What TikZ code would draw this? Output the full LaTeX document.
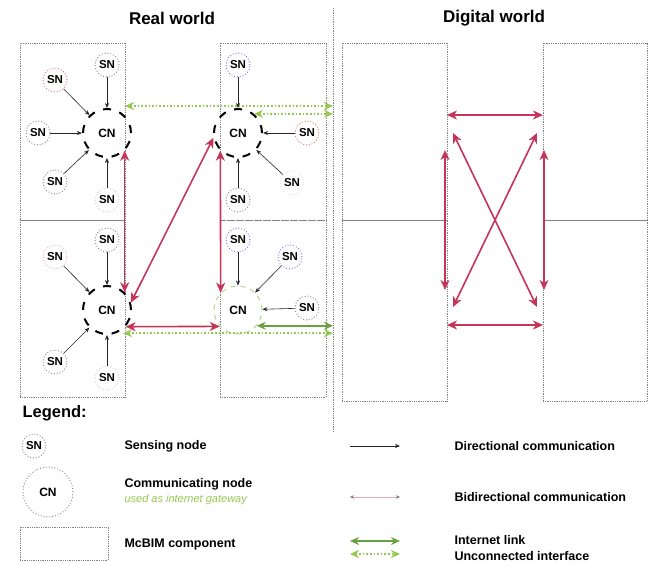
\documentclass[tikz,border=0pt]{standalone}
\usepackage{fontspec}
\setmainfont{Liberation Sans}
\usetikzlibrary{arrows.meta,calc}
\definecolor{cred}{RGB}{198,52,90}
\definecolor{cgreen}{RGB}{108,160,68}
\definecolor{cgreenl}{RGB}{150,200,80}
\definecolor{cbox}{RGB}{130,130,130}
\definecolor{cpink}{RGB}{235,110,110}
\definecolor{cblue}{RGB}{110,110,230}
\definecolor{clpink}{RGB}{225,170,190}
\begin{document}
\begin{tikzpicture}[x=1pt,y=-1pt,
  box/.style={draw=cbox, densely dotted, line width=0.8pt, inner sep=0pt, outer sep=0pt, anchor=north west},
  sn/.style={circle, draw=#1, dotted, line width=0.9pt, minimum size=24pt, inner sep=0pt, font=\bfseries\fontsize{11.5}{12}\selectfont},
  sn/.default=cbox,
  cn/.style={circle, draw=black, line width=2pt, dash pattern=on 8pt off 8.8pt, minimum size=48pt, inner sep=0pt, font=\bfseries\fontsize{12}{13}\selectfont},
  cngate/.style={circle, draw=cgreenl!70, line width=1pt, dash pattern=on 5pt off 5pt, minimum size=48pt, inner sep=0pt, font=\bfseries\fontsize{12}{13}\selectfont},
  sarrow/.style={-{Stealth[length=5pt,width=4pt]}, line width=0.6pt, draw=black!85},
  rarrow/.style={{Stealth[length=10pt,width=9pt,inset=3pt]}-{Stealth[length=10pt,width=9pt,inset=3pt]}, line width=1.6pt, draw=cred},
  glink/.style={{Stealth[length=9pt,width=8pt]}-{Stealth[length=9pt,width=8pt]}, line width=2pt, draw=cgreen},
  gdot/.style={{Stealth[length=9pt,width=8pt]}-{Stealth[length=9pt,width=8pt]}, line width=1.6pt, draw=cgreenl, dotted},
  title/.style={font=\bfseries\fontsize{17}{20}\selectfont},
  legtext/.style={anchor=west, font=\bfseries\fontsize{12.5}{14}\selectfont}
]
\fill[white] (0,0) rectangle (656,563);
\useasboundingbox (0,0) rectangle (656,563);

% titles
\node[title] (trw) at (172,18) {Real world};
\node[title] (tdw) at (494,18) {Digital world};

% separator
\coordinate (sepTop) at (333,8);
\coordinate (sepBot) at (333,432);
\draw[cbox, densely dotted, line width=0.8pt] (sepTop) -- (sepBot);
\coordinate (sep) at (333,0);

% real world boxes
\node[box, minimum width=105pt, minimum height=177pt] (rtl) at (20,43) {};
\node[box, minimum width=105pt, minimum height=177pt] (rbl) at (20,220) {};
\node[box, minimum width=106pt, minimum height=177pt] (rtr) at (220,43) {};
\node[box, minimum width=106pt, minimum height=177pt] (rbr) at (220,220) {};

% digital world boxes
\node[box, minimum width=105pt, minimum height=177pt] (dtl) at (342,43) {};
\node[box, minimum width=105pt, minimum height=181pt] (dbl) at (342,220) {};
\node[box, minimum width=104pt, minimum height=177pt] (dtr) at (543,43) {};
\node[box, minimum width=104pt, minimum height=181pt] (dbr) at (543,220) {};
\draw[cbox, line width=0.8pt] (dtl.south west) -- (dtl.south east);
\draw[cbox, line width=0.8pt] (dtr.south west) -- (dtr.south east);

% communicating nodes
\node[cn] (cn1) at (107,133) {CN};
\node[cn] (cn2) at (238,133) {CN};
\node[cn] (cn3) at (107,310) {CN};
\node[cngate] (cn4) at (238,310) {CN};

% sensing nodes, top-left
\node[sn] (s11) at (107,65) {SN};
\node[sn=cpink] (s12) at (55,80) {SN};
\node[sn] (s13) at (38,133) {SN};
\node[sn] (s14) at (55,182) {SN};
\node[sn=gray!40] (s15) at (107,200) {SN};
% top-right
\node[sn=cblue] (s21) at (238,65) {SN};
\node[sn=cpink] (s22) at (307,133) {SN};
\node[sn=gray!25] (s23) at (292,183) {SN};
\node[sn] (s24) at (238,200) {SN};
% bottom-left
\node[sn] (s31) at (107,240) {SN};
\node[sn=cpink!60] (s32) at (55,257) {SN};
\node[sn] (s33) at (55,362) {SN};
\node[sn=gray!40] (s34) at (107,378) {SN};
% bottom-right
\node[sn=cblue] (s41) at (238,240) {SN};
\node[sn=cblue] (s42) at (290,257) {SN};
\node[sn] (s43) at (307,308) {SN};

% directional communication
\foreach \s in {s11,s12,s13,s14,s15} \draw[sarrow] (\s) -- (cn1);
\foreach \s in {s21,s22,s23,s24} \draw[sarrow] (\s) -- (cn2);
\foreach \s in {s31,s32,s33,s34} \draw[sarrow] (\s) -- (cn3);
\foreach \s in {s41,s42,s43} \draw[sarrow] (\s) -- (cn4);

% bidirectional communication (real world)
\draw[rarrow] (cn1.-45) -- (cn3.45);
\draw[rarrow] (cn2.-135) -- (cn4.135);
\draw[rarrow] (cn2.191) -- (cn3.17);
\draw[rarrow] (cn3.-42) -- (cn4.-138);

% internet links / unconnected interfaces
\coordinate (g1) at ([xshift=18pt,yshift=2pt]cn1.north);
\draw[gdot] (g1) -- (g1 -| sep);
\coordinate (g2) at (cn2.50);
\draw[gdot] (g2) -- (g2 -| sep);
\coordinate (g3) at (cn4.-40);
\draw[glink] (g3) -- (g3 -| sep);
\coordinate (g4) at ([yshift=-4pt]cn3.-50);
\draw[gdot] (g4) -- (g4 -| sep);

% digital world communication
\coordinate (d1) at (447,115);
\coordinate (d2) at (543,115);
\coordinate (d3) at (447,325);
\coordinate (d4) at (543,325);
\coordinate (d5) at (445,150);
\coordinate (d6) at (445,290);
\coordinate (d7) at (544,150);
\coordinate (d8) at (544,290);
\coordinate (d9) at (453,133);
\coordinate (d10) at (537,307);
\coordinate (d11) at (537,133);
\coordinate (d12) at (453,307);
\draw[rarrow] (d1) -- (d2);
\draw[rarrow] (d3) -- (d4);
\draw[rarrow] (d5) -- (d6);
\draw[rarrow] (d7) -- (d8);
\draw[rarrow] (d9) -- (d10);
\draw[rarrow] (d11) -- (d12);

% legend
\node[anchor=west, font=\bfseries\fontsize{16.5}{18}\selectfont] (leg) at (19,413) {Legend:};
\node[sn] (lsn) at (34,446) {SN};
\node[legtext] (lsnt) at (121,446) {Sensing node};
\node[sn, minimum size=50pt, font=\bfseries\fontsize{12}{13}\selectfont] (lcn) at (48,492) {CN};
\node[legtext] (lcnt) at (121,484) {Communicating node};
\node[anchor=west, font=\itshape\fontsize{11}{12}\selectfont, text=cgreenl] (lcng) at (121,500) {used as internet gateway};
\node[box, minimum width=88pt, minimum height=33pt] (lbox) at (20,527) {};
\node[legtext] (lboxt) at (121,544) {McBIM component};

\coordinate (la1) at (350,446); \coordinate (la2) at (400,446);
\draw[sarrow] (la1) -- (la2);
\node[legtext] (lat) at (451,446) {Directional communication};
\coordinate (lb1) at (350,497); \coordinate (lb2) at (400,497);
\draw[{Stealth[length=4pt,width=3.5pt,color=gray]}-{Stealth[length=4pt,width=3.5pt,color=gray]}, line width=0.8pt, draw=clpink] (lb1) -- (lb2);
\node[legtext] (lbt) at (451,497) {Bidirectional communication};
\coordinate (lc1) at (350,541); \coordinate (lc2) at (400,541);
\draw[glink] (lc1) -- (lc2);
\coordinate (ld1) at (350,554); \coordinate (ld2) at (400,554);
\draw[gdot] (ld1) -- (ld2);
\node[legtext] (lct) at (451,540) {Internet link};
\node[legtext] (ldt) at (451,556) {Unconnected interface};
\end{tikzpicture}
\end{document}
